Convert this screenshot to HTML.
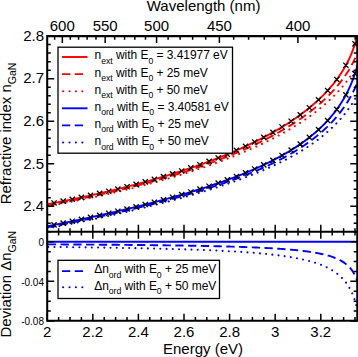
<!DOCTYPE html><html><head><meta charset="utf-8"><style>
html,body{margin:0;padding:0;background:#fff}body{width:358px;height:357px;overflow:hidden}
svg{display:block}text{font-family:"Liberation Sans",sans-serif;fill:#000}
</style></head><body>
<svg width="358" height="357" viewBox="0 0 358 357">
<defs><clipPath id="c1"><rect x="47.2" y="36.1" width="310.08" height="195.70000000000002"/></clipPath>
<clipPath id="c2"><rect x="47.2" y="231.8" width="310.08" height="88.89999999999998"/></clipPath></defs>
<g clip-path="url(#c1)" fill="none" stroke-width="1.90">
<path d="M47.20,206.34 L47.98,206.20 L48.75,206.06 L49.53,205.92 L50.31,205.78 L51.09,205.64 L51.86,205.50 L52.64,205.36 L53.42,205.21 L54.19,205.07 L54.97,204.93 L55.75,204.78 L56.53,204.64 L57.30,204.49 L58.08,204.35 L58.86,204.20 L59.63,204.06 L60.41,203.91 L61.19,203.76 L61.97,203.61 L62.74,203.47 L63.52,203.32 L64.30,203.17 L65.07,203.02 L65.85,202.87 L66.63,202.72 L67.41,202.57 L68.18,202.42 L68.96,202.27 L69.74,202.12 L70.51,201.96 L71.29,201.81 L72.07,201.66 L72.85,201.50 L73.62,201.35 L74.40,201.20 L75.18,201.04 L75.95,200.89 L76.73,200.73 L77.51,200.57 L78.29,200.42 L79.06,200.26 L79.84,200.10 L80.62,199.94 L81.39,199.78 L82.17,199.63 L82.95,199.47 L83.73,199.31 L84.50,199.14 L85.28,198.98 L86.06,198.82 L86.83,198.66 L87.61,198.50 L88.39,198.33 L89.17,198.17 L89.94,198.01 L90.72,197.84 L91.50,197.68 L92.27,197.51 L93.05,197.35 L93.83,197.18 L94.61,197.01 L95.38,196.85 L96.16,196.68 L96.94,196.51 L97.71,196.34 L98.49,196.17 L99.27,196.00 L100.05,195.83 L100.82,195.66 L101.60,195.49 L102.38,195.32 L103.15,195.14 L103.93,194.97 L104.71,194.80 L105.49,194.62 L106.26,194.45 L107.04,194.27 L107.82,194.10 L108.59,193.92 L109.37,193.75 L110.15,193.57 L110.93,193.39 L111.70,193.21 L112.48,193.03 L113.26,192.85 L114.03,192.67 L114.81,192.49 L115.59,192.31 L116.37,192.13 L117.14,191.95 L117.92,191.77 L118.70,191.58 L119.47,191.40 L120.25,191.21 L121.03,191.03 L121.81,190.84 L122.58,190.66 L123.36,190.47 L124.14,190.28 L124.91,190.09 L125.69,189.91 L126.47,189.72 L127.25,189.53 L128.02,189.34 L128.80,189.15 L129.58,188.95 L130.35,188.76 L131.13,188.57 L131.91,188.38 L132.69,188.18 L133.46,187.99 L134.24,187.79 L135.02,187.60 L135.79,187.40 L136.57,187.20 L137.35,187.01 L138.13,186.81 L138.90,186.61 L139.68,186.41 L140.46,186.21 L141.23,186.01 L142.01,185.81 L142.79,185.60 L143.57,185.40 L144.34,185.20 L145.12,184.99 L145.90,184.79 L146.67,184.58 L147.45,184.38 L148.23,184.17 L149.01,183.96 L149.78,183.76 L150.56,183.55 L151.34,183.34 L152.11,183.13 L152.89,182.92 L153.67,182.70 L154.45,182.49 L155.22,182.28 L156.00,182.07 L156.78,181.85 L157.55,181.64 L158.33,181.42 L159.11,181.20 L159.89,180.99 L160.66,180.77 L161.44,180.55 L162.22,180.33 L162.99,180.11 L163.77,179.89 L164.55,179.67 L165.33,179.44 L166.10,179.22 L166.88,179.00 L167.66,178.77 L168.43,178.55 L169.21,178.32 L169.99,178.09 L170.77,177.87 L171.54,177.64 L172.32,177.41 L173.10,177.18 L173.87,176.95 L174.65,176.72 L175.43,176.48 L176.21,176.25 L176.98,176.02 L177.76,175.78 L178.54,175.54 L179.31,175.31 L180.09,175.07 L180.87,174.83 L181.65,174.59 L182.42,174.35 L183.20,174.11 L183.98,173.87 L184.75,173.63 L185.53,173.38 L186.31,173.14 L187.09,172.89 L187.86,172.65 L188.64,172.40 L189.42,172.15 L190.19,171.90 L190.97,171.65 L191.75,171.40 L192.53,171.15 L193.30,170.90 L194.08,170.65 L194.86,170.39 L195.63,170.14 L196.41,169.88 L197.19,169.62 L197.97,169.36 L198.74,169.10 L199.52,168.84 L200.30,168.58 L201.07,168.32 L201.85,168.06 L202.63,167.79 L203.41,167.53 L204.18,167.26 L204.96,166.99 L205.74,166.73 L206.51,166.46 L207.29,166.19 L208.07,165.92 L208.85,165.64 L209.62,165.37 L210.40,165.09 L211.18,164.82 L211.95,164.54 L212.73,164.26 L213.51,163.99 L214.29,163.70 L215.06,163.42 L215.84,163.14 L216.62,162.86 L217.39,162.57 L218.17,162.29 L218.95,162.00 L219.73,161.71 L220.50,161.42 L221.28,161.13 L222.06,160.84 L222.83,160.55 L223.61,160.25 L224.39,159.96 L225.17,159.66 L225.94,159.36 L226.72,159.06 L227.50,158.76 L228.27,158.46 L229.05,158.16 L229.83,157.85 L230.61,157.55 L231.38,157.24 L232.16,156.93 L232.94,156.62 L233.71,156.31 L234.49,156.00 L235.27,155.68 L236.05,155.37 L236.82,155.05 L237.60,154.73 L238.38,154.41 L239.15,154.09 L239.93,153.77 L240.71,153.45 L241.49,153.12 L242.26,152.79 L243.04,152.47 L243.82,152.14 L244.59,151.80 L245.37,151.47 L246.15,151.14 L246.93,150.80 L247.70,150.46 L248.48,150.12 L249.26,149.78 L250.03,149.44 L250.81,149.09 L251.59,148.75 L252.37,148.40 L253.14,148.05 L253.92,147.70 L254.70,147.35 L255.47,146.99 L256.25,146.63 L257.03,146.28 L257.81,145.92 L258.58,145.55 L259.36,145.19 L260.14,144.82 L260.91,144.46 L261.69,144.09 L262.47,143.71 L263.25,143.34 L264.02,142.97 L264.80,142.59 L265.58,142.21 L266.35,141.83 L267.13,141.44 L267.91,141.06 L268.69,140.67 L269.46,140.28 L270.24,139.89 L271.02,139.49 L271.79,139.09 L272.57,138.69 L273.35,138.29 L274.13,137.89 L274.90,137.48 L275.68,137.07 L276.46,136.66 L277.23,136.25 L278.01,135.83 L278.79,135.42 L279.57,135.00 L280.34,134.57 L281.12,134.15 L281.90,133.72 L282.67,133.29 L283.45,132.85 L284.23,132.41 L285.01,131.97 L285.78,131.53 L286.56,131.09 L287.34,130.64 L288.11,130.19 L288.89,129.73 L289.67,129.28 L290.45,128.81 L291.22,128.35 L292.00,127.88 L292.78,127.41 L293.55,126.94 L294.33,126.46 L295.11,125.98 L295.89,125.50 L296.66,125.01 L297.44,124.52 L298.22,124.03 L298.99,123.53 L299.77,123.03 L300.55,122.53 L301.33,122.02 L302.10,121.50 L302.88,120.99 L303.66,120.46 L304.43,119.94 L305.21,119.41 L305.99,118.88 L306.77,118.34 L307.54,117.80 L308.32,117.25 L309.10,116.70 L309.87,116.14 L310.65,115.58 L311.43,115.01 L312.21,114.44 L312.98,113.86 L313.76,113.28 L314.54,112.70 L315.31,112.10 L316.09,111.51 L316.87,110.90 L317.65,110.29 L318.42,109.68 L319.20,109.05 L319.98,108.43 L320.75,107.79 L321.53,107.15 L322.31,106.50 L323.09,105.85 L323.86,105.19 L324.64,104.52 L325.42,103.84 L326.19,103.16 L326.97,102.47 L327.75,101.77 L328.53,101.06 L329.30,100.35 L330.08,99.62 L330.86,98.89 L331.63,98.14 L332.41,97.39 L333.19,96.63 L333.97,95.86 L334.74,95.07 L335.52,94.28 L336.30,93.48 L337.07,92.66 L337.85,91.83 L338.63,90.99 L339.41,90.14 L340.18,89.27 L340.96,88.39 L341.74,87.49 L342.51,86.58 L343.29,85.66 L344.07,84.72 L344.85,83.76 L345.62,82.78 L346.40,81.79 L347.18,80.77 L347.95,79.74 L348.73,78.68 L349.51,77.60 L350.29,76.50 L351.06,75.37 L351.84,74.22 L352.62,73.04 L353.39,71.83 L354.17,70.59 L354.95,69.31 L355.73,67.99 L356.50,66.64 L357.28,65.25" stroke="#ff0000" stroke-dasharray="0.01,6.22" stroke-linecap="round" stroke-width="2.1"/>
<path d="M47.20,205.31 L47.98,205.16 L48.75,205.02 L49.53,204.88 L50.31,204.73 L51.09,204.59 L51.86,204.44 L52.64,204.30 L53.42,204.15 L54.19,204.01 L54.97,203.86 L55.75,203.71 L56.53,203.56 L57.30,203.42 L58.08,203.27 L58.86,203.12 L59.63,202.97 L60.41,202.82 L61.19,202.67 L61.97,202.52 L62.74,202.37 L63.52,202.22 L64.30,202.06 L65.07,201.91 L65.85,201.76 L66.63,201.61 L67.41,201.45 L68.18,201.30 L68.96,201.14 L69.74,200.99 L70.51,200.83 L71.29,200.68 L72.07,200.52 L72.85,200.36 L73.62,200.21 L74.40,200.05 L75.18,199.89 L75.95,199.73 L76.73,199.57 L77.51,199.41 L78.29,199.25 L79.06,199.09 L79.84,198.93 L80.62,198.77 L81.39,198.61 L82.17,198.44 L82.95,198.28 L83.73,198.12 L84.50,197.95 L85.28,197.79 L86.06,197.62 L86.83,197.46 L87.61,197.29 L88.39,197.12 L89.17,196.96 L89.94,196.79 L90.72,196.62 L91.50,196.45 L92.27,196.28 L93.05,196.11 L93.83,195.94 L94.61,195.77 L95.38,195.60 L96.16,195.43 L96.94,195.26 L97.71,195.09 L98.49,194.91 L99.27,194.74 L100.05,194.57 L100.82,194.39 L101.60,194.22 L102.38,194.04 L103.15,193.86 L103.93,193.69 L104.71,193.51 L105.49,193.33 L106.26,193.15 L107.04,192.97 L107.82,192.79 L108.59,192.61 L109.37,192.43 L110.15,192.25 L110.93,192.07 L111.70,191.89 L112.48,191.70 L113.26,191.52 L114.03,191.34 L114.81,191.15 L115.59,190.97 L116.37,190.78 L117.14,190.59 L117.92,190.41 L118.70,190.22 L119.47,190.03 L120.25,189.84 L121.03,189.65 L121.81,189.46 L122.58,189.27 L123.36,189.08 L124.14,188.89 L124.91,188.70 L125.69,188.50 L126.47,188.31 L127.25,188.12 L128.02,187.92 L128.80,187.73 L129.58,187.53 L130.35,187.33 L131.13,187.14 L131.91,186.94 L132.69,186.74 L133.46,186.54 L134.24,186.34 L135.02,186.14 L135.79,185.94 L136.57,185.74 L137.35,185.54 L138.13,185.33 L138.90,185.13 L139.68,184.93 L140.46,184.72 L141.23,184.51 L142.01,184.31 L142.79,184.10 L143.57,183.89 L144.34,183.69 L145.12,183.48 L145.90,183.27 L146.67,183.06 L147.45,182.85 L148.23,182.63 L149.01,182.42 L149.78,182.21 L150.56,181.99 L151.34,181.78 L152.11,181.56 L152.89,181.35 L153.67,181.13 L154.45,180.91 L155.22,180.70 L156.00,180.48 L156.78,180.26 L157.55,180.04 L158.33,179.81 L159.11,179.59 L159.89,179.37 L160.66,179.15 L161.44,178.92 L162.22,178.70 L162.99,178.47 L163.77,178.25 L164.55,178.02 L165.33,177.79 L166.10,177.56 L166.88,177.33 L167.66,177.10 L168.43,176.87 L169.21,176.64 L169.99,176.41 L170.77,176.17 L171.54,175.94 L172.32,175.70 L173.10,175.47 L173.87,175.23 L174.65,174.99 L175.43,174.75 L176.21,174.51 L176.98,174.27 L177.76,174.03 L178.54,173.79 L179.31,173.55 L180.09,173.30 L180.87,173.06 L181.65,172.81 L182.42,172.57 L183.20,172.32 L183.98,172.07 L184.75,171.82 L185.53,171.57 L186.31,171.32 L187.09,171.07 L187.86,170.81 L188.64,170.56 L189.42,170.31 L190.19,170.05 L190.97,169.79 L191.75,169.54 L192.53,169.28 L193.30,169.02 L194.08,168.76 L194.86,168.50 L195.63,168.23 L196.41,167.97 L197.19,167.70 L197.97,167.44 L198.74,167.17 L199.52,166.91 L200.30,166.64 L201.07,166.37 L201.85,166.10 L202.63,165.82 L203.41,165.55 L204.18,165.28 L204.96,165.00 L205.74,164.73 L206.51,164.45 L207.29,164.17 L208.07,163.89 L208.85,163.61 L209.62,163.33 L210.40,163.05 L211.18,162.76 L211.95,162.48 L212.73,162.19 L213.51,161.90 L214.29,161.62 L215.06,161.33 L215.84,161.03 L216.62,160.74 L217.39,160.45 L218.17,160.15 L218.95,159.86 L219.73,159.56 L220.50,159.26 L221.28,158.96 L222.06,158.66 L222.83,158.36 L223.61,158.06 L224.39,157.75 L225.17,157.44 L225.94,157.14 L226.72,156.83 L227.50,156.52 L228.27,156.21 L229.05,155.89 L229.83,155.58 L230.61,155.26 L231.38,154.95 L232.16,154.63 L232.94,154.31 L233.71,153.99 L234.49,153.66 L235.27,153.34 L236.05,153.01 L236.82,152.68 L237.60,152.36 L238.38,152.03 L239.15,151.69 L239.93,151.36 L240.71,151.02 L241.49,150.69 L242.26,150.35 L243.04,150.01 L243.82,149.67 L244.59,149.32 L245.37,148.98 L246.15,148.63 L246.93,148.28 L247.70,147.93 L248.48,147.58 L249.26,147.23 L250.03,146.87 L250.81,146.52 L251.59,146.16 L252.37,145.80 L253.14,145.43 L253.92,145.07 L254.70,144.70 L255.47,144.33 L256.25,143.96 L257.03,143.59 L257.81,143.22 L258.58,142.84 L259.36,142.46 L260.14,142.08 L260.91,141.70 L261.69,141.31 L262.47,140.93 L263.25,140.54 L264.02,140.15 L264.80,139.75 L265.58,139.36 L266.35,138.96 L267.13,138.56 L267.91,138.16 L268.69,137.75 L269.46,137.35 L270.24,136.94 L271.02,136.53 L271.79,136.11 L272.57,135.69 L273.35,135.28 L274.13,134.85 L274.90,134.43 L275.68,134.00 L276.46,133.57 L277.23,133.14 L278.01,132.71 L278.79,132.27 L279.57,131.83 L280.34,131.38 L281.12,130.94 L281.90,130.49 L282.67,130.04 L283.45,129.58 L284.23,129.12 L285.01,128.66 L285.78,128.20 L286.56,127.73 L287.34,127.26 L288.11,126.78 L288.89,126.30 L289.67,125.82 L290.45,125.34 L291.22,124.85 L292.00,124.36 L292.78,123.86 L293.55,123.36 L294.33,122.86 L295.11,122.36 L295.89,121.85 L296.66,121.33 L297.44,120.81 L298.22,120.29 L298.99,119.76 L299.77,119.23 L300.55,118.70 L301.33,118.16 L302.10,117.61 L302.88,117.06 L303.66,116.51 L304.43,115.95 L305.21,115.39 L305.99,114.82 L306.77,114.25 L307.54,113.67 L308.32,113.09 L309.10,112.50 L309.87,111.90 L310.65,111.30 L311.43,110.70 L312.21,110.09 L312.98,109.47 L313.76,108.85 L314.54,108.22 L315.31,107.58 L316.09,106.94 L316.87,106.29 L317.65,105.63 L318.42,104.97 L319.20,104.29 L319.98,103.62 L320.75,102.93 L321.53,102.24 L322.31,101.53 L323.09,100.82 L323.86,100.10 L324.64,99.38 L325.42,98.64 L326.19,97.89 L326.97,97.14 L327.75,96.37 L328.53,95.60 L329.30,94.81 L330.08,94.01 L330.86,93.20 L331.63,92.38 L332.41,91.55 L333.19,90.71 L333.97,89.85 L334.74,88.98 L335.52,88.09 L336.30,87.19 L337.07,86.28 L337.85,85.35 L338.63,84.40 L339.41,83.43 L340.18,82.45 L340.96,81.45 L341.74,80.43 L342.51,79.39 L343.29,78.32 L344.07,77.24 L344.85,76.13 L345.62,74.99 L346.40,73.83 L347.18,72.64 L347.95,71.42 L348.73,70.16 L349.51,68.87 L350.29,67.55 L351.06,66.18 L351.84,64.77 L352.62,63.32 L353.39,61.81 L354.17,60.25 L354.95,58.63 L355.73,56.94 L356.50,55.17 L357.28,53.33" stroke="#ff0000" stroke-dasharray="8.3,4.45"/>
<path d="M47.20,204.25 L47.98,204.10 L48.75,203.96 L49.53,203.81 L50.31,203.66 L51.09,203.52 L51.86,203.37 L52.64,203.22 L53.42,203.07 L54.19,202.92 L54.97,202.77 L55.75,202.62 L56.53,202.47 L57.30,202.32 L58.08,202.17 L58.86,202.01 L59.63,201.86 L60.41,201.71 L61.19,201.55 L61.97,201.40 L62.74,201.25 L63.52,201.09 L64.30,200.94 L65.07,200.78 L65.85,200.62 L66.63,200.47 L67.41,200.31 L68.18,200.15 L68.96,200.00 L69.74,199.84 L70.51,199.68 L71.29,199.52 L72.07,199.36 L72.85,199.20 L73.62,199.04 L74.40,198.88 L75.18,198.71 L75.95,198.55 L76.73,198.39 L77.51,198.23 L78.29,198.06 L79.06,197.90 L79.84,197.73 L80.62,197.57 L81.39,197.40 L82.17,197.24 L82.95,197.07 L83.73,196.90 L84.50,196.73 L85.28,196.57 L86.06,196.40 L86.83,196.23 L87.61,196.06 L88.39,195.89 L89.17,195.72 L89.94,195.55 L90.72,195.37 L91.50,195.20 L92.27,195.03 L93.05,194.86 L93.83,194.68 L94.61,194.51 L95.38,194.33 L96.16,194.16 L96.94,193.98 L97.71,193.80 L98.49,193.63 L99.27,193.45 L100.05,193.27 L100.82,193.09 L101.60,192.91 L102.38,192.73 L103.15,192.55 L103.93,192.37 L104.71,192.19 L105.49,192.01 L106.26,191.83 L107.04,191.64 L107.82,191.46 L108.59,191.27 L109.37,191.09 L110.15,190.90 L110.93,190.72 L111.70,190.53 L112.48,190.34 L113.26,190.16 L114.03,189.97 L114.81,189.78 L115.59,189.59 L116.37,189.40 L117.14,189.21 L117.92,189.02 L118.70,188.83 L119.47,188.63 L120.25,188.44 L121.03,188.25 L121.81,188.05 L122.58,187.86 L123.36,187.66 L124.14,187.47 L124.91,187.27 L125.69,187.07 L126.47,186.87 L127.25,186.67 L128.02,186.47 L128.80,186.27 L129.58,186.07 L130.35,185.87 L131.13,185.67 L131.91,185.47 L132.69,185.27 L133.46,185.06 L134.24,184.86 L135.02,184.65 L135.79,184.45 L136.57,184.24 L137.35,184.03 L138.13,183.82 L138.90,183.62 L139.68,183.41 L140.46,183.20 L141.23,182.99 L142.01,182.77 L142.79,182.56 L143.57,182.35 L144.34,182.14 L145.12,181.92 L145.90,181.71 L146.67,181.49 L147.45,181.28 L148.23,181.06 L149.01,180.84 L149.78,180.62 L150.56,180.40 L151.34,180.18 L152.11,179.96 L152.89,179.74 L153.67,179.52 L154.45,179.30 L155.22,179.07 L156.00,178.85 L156.78,178.62 L157.55,178.40 L158.33,178.17 L159.11,177.94 L159.89,177.71 L160.66,177.48 L161.44,177.25 L162.22,177.02 L162.99,176.79 L163.77,176.56 L164.55,176.33 L165.33,176.09 L166.10,175.86 L166.88,175.62 L167.66,175.39 L168.43,175.15 L169.21,174.91 L169.99,174.67 L170.77,174.43 L171.54,174.19 L172.32,173.95 L173.10,173.71 L173.87,173.46 L174.65,173.22 L175.43,172.98 L176.21,172.73 L176.98,172.48 L177.76,172.23 L178.54,171.99 L179.31,171.74 L180.09,171.49 L180.87,171.24 L181.65,170.98 L182.42,170.73 L183.20,170.48 L183.98,170.22 L184.75,169.96 L185.53,169.71 L186.31,169.45 L187.09,169.19 L187.86,168.93 L188.64,168.67 L189.42,168.41 L190.19,168.14 L190.97,167.88 L191.75,167.62 L192.53,167.35 L193.30,167.08 L194.08,166.82 L194.86,166.55 L195.63,166.28 L196.41,166.01 L197.19,165.73 L197.97,165.46 L198.74,165.19 L199.52,164.91 L200.30,164.63 L201.07,164.36 L201.85,164.08 L202.63,163.80 L203.41,163.52 L204.18,163.23 L204.96,162.95 L205.74,162.67 L206.51,162.38 L207.29,162.10 L208.07,161.81 L208.85,161.52 L209.62,161.23 L210.40,160.94 L211.18,160.64 L211.95,160.35 L212.73,160.05 L213.51,159.76 L214.29,159.46 L215.06,159.16 L215.84,158.86 L216.62,158.56 L217.39,158.26 L218.17,157.95 L218.95,157.65 L219.73,157.34 L220.50,157.03 L221.28,156.72 L222.06,156.41 L222.83,156.10 L223.61,155.79 L224.39,155.47 L225.17,155.16 L225.94,154.84 L226.72,154.52 L227.50,154.20 L228.27,153.88 L229.05,153.55 L229.83,153.23 L230.61,152.90 L231.38,152.57 L232.16,152.25 L232.94,151.91 L233.71,151.58 L234.49,151.25 L235.27,150.91 L236.05,150.57 L236.82,150.24 L237.60,149.89 L238.38,149.55 L239.15,149.21 L239.93,148.86 L240.71,148.52 L241.49,148.17 L242.26,147.82 L243.04,147.46 L243.82,147.11 L244.59,146.75 L245.37,146.40 L246.15,146.04 L246.93,145.67 L247.70,145.31 L248.48,144.95 L249.26,144.58 L250.03,144.21 L250.81,143.84 L251.59,143.46 L252.37,143.09 L253.14,142.71 L253.92,142.33 L254.70,141.95 L255.47,141.57 L256.25,141.18 L257.03,140.80 L257.81,140.41 L258.58,140.02 L259.36,139.62 L260.14,139.23 L260.91,138.83 L261.69,138.43 L262.47,138.02 L263.25,137.62 L264.02,137.21 L264.80,136.80 L265.58,136.39 L266.35,135.97 L267.13,135.55 L267.91,135.13 L268.69,134.71 L269.46,134.29 L270.24,133.86 L271.02,133.43 L271.79,132.99 L272.57,132.56 L273.35,132.12 L274.13,131.68 L274.90,131.23 L275.68,130.79 L276.46,130.34 L277.23,129.88 L278.01,129.43 L278.79,128.97 L279.57,128.51 L280.34,128.04 L281.12,127.57 L281.90,127.10 L282.67,126.62 L283.45,126.14 L284.23,125.66 L285.01,125.18 L285.78,124.69 L286.56,124.19 L287.34,123.70 L288.11,123.20 L288.89,122.69 L289.67,122.19 L290.45,121.67 L291.22,121.16 L292.00,120.64 L292.78,120.11 L293.55,119.59 L294.33,119.05 L295.11,118.52 L295.89,117.98 L296.66,117.43 L297.44,116.88 L298.22,116.32 L298.99,115.76 L299.77,115.20 L300.55,114.63 L301.33,114.06 L302.10,113.48 L302.88,112.89 L303.66,112.30 L304.43,111.70 L305.21,111.10 L305.99,110.49 L306.77,109.88 L307.54,109.26 L308.32,108.64 L309.10,108.00 L309.87,107.36 L310.65,106.72 L311.43,106.07 L312.21,105.41 L312.98,104.74 L313.76,104.07 L314.54,103.39 L315.31,102.70 L316.09,102.00 L316.87,101.30 L317.65,100.58 L318.42,99.86 L319.20,99.13 L319.98,98.39 L320.75,97.64 L321.53,96.88 L322.31,96.11 L323.09,95.33 L323.86,94.54 L324.64,93.74 L325.42,92.93 L326.19,92.11 L326.97,91.27 L327.75,90.42 L328.53,89.56 L329.30,88.68 L330.08,87.79 L330.86,86.89 L331.63,85.97 L332.41,85.03 L333.19,84.08 L333.97,83.11 L334.74,82.12 L335.52,81.11 L336.30,80.08 L337.07,79.03 L337.85,77.96 L338.63,76.87 L339.41,75.75 L340.18,74.61 L340.96,73.43 L341.74,72.23 L342.51,71.00 L343.29,69.73 L344.07,68.43 L344.85,67.09 L345.62,65.71 L346.40,64.29 L347.18,62.82 L347.95,61.30 L348.73,59.71 L349.51,58.07 L350.29,56.36 L351.06,54.57 L351.84,52.69 L352.62,50.71 L353.39,48.62 L354.17,46.39 L354.95,44.01 L355.73,41.44 L356.50,38.64 L357.28,35.53" stroke="#ff0000"/>
<path d="M47.20,228.47 L47.98,228.32 L48.75,228.17 L49.53,228.02 L50.31,227.88 L51.09,227.73 L51.86,227.58 L52.64,227.43 L53.42,227.28 L54.19,227.13 L54.97,226.98 L55.75,226.82 L56.53,226.67 L57.30,226.52 L58.08,226.37 L58.86,226.22 L59.63,226.07 L60.41,225.91 L61.19,225.76 L61.97,225.61 L62.74,225.46 L63.52,225.30 L64.30,225.15 L65.07,224.99 L65.85,224.84 L66.63,224.68 L67.41,224.53 L68.18,224.37 L68.96,224.22 L69.74,224.06 L70.51,223.91 L71.29,223.75 L72.07,223.59 L72.85,223.44 L73.62,223.28 L74.40,223.12 L75.18,222.96 L75.95,222.81 L76.73,222.65 L77.51,222.49 L78.29,222.33 L79.06,222.17 L79.84,222.01 L80.62,221.85 L81.39,221.69 L82.17,221.53 L82.95,221.37 L83.73,221.21 L84.50,221.05 L85.28,220.89 L86.06,220.72 L86.83,220.56 L87.61,220.40 L88.39,220.24 L89.17,220.07 L89.94,219.91 L90.72,219.75 L91.50,219.58 L92.27,219.42 L93.05,219.25 L93.83,219.09 L94.61,218.92 L95.38,218.76 L96.16,218.59 L96.94,218.43 L97.71,218.26 L98.49,218.09 L99.27,217.92 L100.05,217.76 L100.82,217.59 L101.60,217.42 L102.38,217.25 L103.15,217.08 L103.93,216.91 L104.71,216.74 L105.49,216.57 L106.26,216.40 L107.04,216.23 L107.82,216.06 L108.59,215.89 L109.37,215.72 L110.15,215.55 L110.93,215.37 L111.70,215.20 L112.48,215.03 L113.26,214.86 L114.03,214.68 L114.81,214.51 L115.59,214.33 L116.37,214.16 L117.14,213.98 L117.92,213.81 L118.70,213.63 L119.47,213.45 L120.25,213.28 L121.03,213.10 L121.81,212.92 L122.58,212.75 L123.36,212.57 L124.14,212.39 L124.91,212.21 L125.69,212.03 L126.47,211.85 L127.25,211.67 L128.02,211.49 L128.80,211.31 L129.58,211.13 L130.35,210.95 L131.13,210.76 L131.91,210.58 L132.69,210.40 L133.46,210.21 L134.24,210.03 L135.02,209.85 L135.79,209.66 L136.57,209.48 L137.35,209.29 L138.13,209.11 L138.90,208.92 L139.68,208.73 L140.46,208.54 L141.23,208.36 L142.01,208.17 L142.79,207.98 L143.57,207.79 L144.34,207.60 L145.12,207.41 L145.90,207.22 L146.67,207.03 L147.45,206.84 L148.23,206.65 L149.01,206.46 L149.78,206.26 L150.56,206.07 L151.34,205.88 L152.11,205.68 L152.89,205.49 L153.67,205.29 L154.45,205.10 L155.22,204.90 L156.00,204.71 L156.78,204.51 L157.55,204.31 L158.33,204.11 L159.11,203.91 L159.89,203.71 L160.66,203.52 L161.44,203.32 L162.22,203.11 L162.99,202.91 L163.77,202.71 L164.55,202.51 L165.33,202.31 L166.10,202.10 L166.88,201.90 L167.66,201.70 L168.43,201.49 L169.21,201.29 L169.99,201.08 L170.77,200.87 L171.54,200.67 L172.32,200.46 L173.10,200.25 L173.87,200.04 L174.65,199.83 L175.43,199.62 L176.21,199.41 L176.98,199.20 L177.76,198.99 L178.54,198.77 L179.31,198.56 L180.09,198.35 L180.87,198.13 L181.65,197.92 L182.42,197.70 L183.20,197.49 L183.98,197.27 L184.75,197.05 L185.53,196.83 L186.31,196.61 L187.09,196.39 L187.86,196.17 L188.64,195.95 L189.42,195.73 L190.19,195.51 L190.97,195.28 L191.75,195.06 L192.53,194.84 L193.30,194.61 L194.08,194.38 L194.86,194.16 L195.63,193.93 L196.41,193.70 L197.19,193.47 L197.97,193.24 L198.74,193.01 L199.52,192.78 L200.30,192.55 L201.07,192.32 L201.85,192.08 L202.63,191.85 L203.41,191.61 L204.18,191.38 L204.96,191.14 L205.74,190.90 L206.51,190.66 L207.29,190.42 L208.07,190.18 L208.85,189.94 L209.62,189.70 L210.40,189.46 L211.18,189.21 L211.95,188.97 L212.73,188.72 L213.51,188.48 L214.29,188.23 L215.06,187.98 L215.84,187.73 L216.62,187.48 L217.39,187.23 L218.17,186.98 L218.95,186.72 L219.73,186.47 L220.50,186.21 L221.28,185.96 L222.06,185.70 L222.83,185.44 L223.61,185.18 L224.39,184.92 L225.17,184.66 L225.94,184.40 L226.72,184.13 L227.50,183.87 L228.27,183.60 L229.05,183.33 L229.83,183.07 L230.61,182.80 L231.38,182.53 L232.16,182.25 L232.94,181.98 L233.71,181.71 L234.49,181.43 L235.27,181.15 L236.05,180.88 L236.82,180.60 L237.60,180.32 L238.38,180.03 L239.15,179.75 L239.93,179.47 L240.71,179.18 L241.49,178.89 L242.26,178.61 L243.04,178.32 L243.82,178.02 L244.59,177.73 L245.37,177.44 L246.15,177.14 L246.93,176.84 L247.70,176.55 L248.48,176.25 L249.26,175.94 L250.03,175.64 L250.81,175.34 L251.59,175.03 L252.37,174.72 L253.14,174.41 L253.92,174.10 L254.70,173.79 L255.47,173.47 L256.25,173.16 L257.03,172.84 L257.81,172.52 L258.58,172.20 L259.36,171.88 L260.14,171.55 L260.91,171.22 L261.69,170.89 L262.47,170.56 L263.25,170.23 L264.02,169.90 L264.80,169.56 L265.58,169.22 L266.35,168.88 L267.13,168.54 L267.91,168.19 L268.69,167.85 L269.46,167.50 L270.24,167.15 L271.02,166.79 L271.79,166.44 L272.57,166.08 L273.35,165.72 L274.13,165.36 L274.90,164.99 L275.68,164.63 L276.46,164.26 L277.23,163.88 L278.01,163.51 L278.79,163.13 L279.57,162.75 L280.34,162.37 L281.12,161.98 L281.90,161.60 L282.67,161.21 L283.45,160.81 L284.23,160.42 L285.01,160.02 L285.78,159.62 L286.56,159.21 L287.34,158.80 L288.11,158.39 L288.89,157.98 L289.67,157.56 L290.45,157.14 L291.22,156.71 L292.00,156.29 L292.78,155.86 L293.55,155.42 L294.33,154.98 L295.11,154.54 L295.89,154.10 L296.66,153.65 L297.44,153.20 L298.22,152.74 L298.99,152.28 L299.77,151.82 L300.55,151.35 L301.33,150.88 L302.10,150.40 L302.88,149.92 L303.66,149.43 L304.43,148.94 L305.21,148.45 L305.99,147.95 L306.77,147.45 L307.54,146.94 L308.32,146.42 L309.10,145.91 L309.87,145.38 L310.65,144.85 L311.43,144.32 L312.21,143.78 L312.98,143.23 L313.76,142.68 L314.54,142.13 L315.31,141.56 L316.09,140.99 L316.87,140.42 L317.65,139.84 L318.42,139.25 L319.20,138.65 L319.98,138.05 L320.75,137.44 L321.53,136.83 L322.31,136.20 L323.09,135.57 L323.86,134.93 L324.64,134.29 L325.42,133.63 L326.19,132.97 L326.97,132.29 L327.75,131.61 L328.53,130.92 L329.30,130.22 L330.08,129.51 L330.86,128.80 L331.63,128.07 L332.41,127.33 L333.19,126.58 L333.97,125.81 L334.74,125.04 L335.52,124.25 L336.30,123.46 L337.07,122.65 L337.85,121.82 L338.63,120.98 L339.41,120.13 L340.18,119.27 L340.96,118.39 L341.74,117.49 L342.51,116.58 L343.29,115.64 L344.07,114.70 L344.85,113.73 L345.62,112.74 L346.40,111.74 L347.18,110.71 L347.95,109.66 L348.73,108.59 L349.51,107.50 L350.29,106.38 L351.06,105.23 L351.84,104.06 L352.62,102.85 L353.39,101.62 L354.17,100.35 L354.95,99.05 L355.73,97.71 L356.50,96.33 L357.28,94.91" stroke="#0000ff" stroke-dasharray="0.01,6.22" stroke-linecap="round" stroke-width="2.1"/>
<path d="M47.20,227.38 L47.98,227.23 L48.75,227.08 L49.53,226.93 L50.31,226.77 L51.09,226.62 L51.86,226.47 L52.64,226.32 L53.42,226.17 L54.19,226.02 L54.97,225.86 L55.75,225.71 L56.53,225.56 L57.30,225.40 L58.08,225.25 L58.86,225.10 L59.63,224.94 L60.41,224.79 L61.19,224.63 L61.97,224.48 L62.74,224.32 L63.52,224.17 L64.30,224.01 L65.07,223.86 L65.85,223.70 L66.63,223.54 L67.41,223.38 L68.18,223.23 L68.96,223.07 L69.74,222.91 L70.51,222.75 L71.29,222.60 L72.07,222.44 L72.85,222.28 L73.62,222.12 L74.40,221.96 L75.18,221.80 L75.95,221.64 L76.73,221.48 L77.51,221.32 L78.29,221.16 L79.06,220.99 L79.84,220.83 L80.62,220.67 L81.39,220.51 L82.17,220.35 L82.95,220.18 L83.73,220.02 L84.50,219.86 L85.28,219.69 L86.06,219.53 L86.83,219.36 L87.61,219.20 L88.39,219.03 L89.17,218.87 L89.94,218.70 L90.72,218.54 L91.50,218.37 L92.27,218.20 L93.05,218.04 L93.83,217.87 L94.61,217.70 L95.38,217.53 L96.16,217.36 L96.94,217.20 L97.71,217.03 L98.49,216.86 L99.27,216.69 L100.05,216.52 L100.82,216.35 L101.60,216.18 L102.38,216.00 L103.15,215.83 L103.93,215.66 L104.71,215.49 L105.49,215.32 L106.26,215.14 L107.04,214.97 L107.82,214.80 L108.59,214.62 L109.37,214.45 L110.15,214.27 L110.93,214.10 L111.70,213.92 L112.48,213.75 L113.26,213.57 L114.03,213.40 L114.81,213.22 L115.59,213.04 L116.37,212.86 L117.14,212.69 L117.92,212.51 L118.70,212.33 L119.47,212.15 L120.25,211.97 L121.03,211.79 L121.81,211.61 L122.58,211.43 L123.36,211.25 L124.14,211.07 L124.91,210.88 L125.69,210.70 L126.47,210.52 L127.25,210.34 L128.02,210.15 L128.80,209.97 L129.58,209.78 L130.35,209.60 L131.13,209.41 L131.91,209.23 L132.69,209.04 L133.46,208.86 L134.24,208.67 L135.02,208.48 L135.79,208.29 L136.57,208.11 L137.35,207.92 L138.13,207.73 L138.90,207.54 L139.68,207.35 L140.46,207.16 L141.23,206.97 L142.01,206.78 L142.79,206.58 L143.57,206.39 L144.34,206.20 L145.12,206.01 L145.90,205.81 L146.67,205.62 L147.45,205.42 L148.23,205.23 L149.01,205.03 L149.78,204.84 L150.56,204.64 L151.34,204.44 L152.11,204.24 L152.89,204.05 L153.67,203.85 L154.45,203.65 L155.22,203.45 L156.00,203.25 L156.78,203.05 L157.55,202.85 L158.33,202.64 L159.11,202.44 L159.89,202.24 L160.66,202.04 L161.44,201.83 L162.22,201.63 L162.99,201.42 L163.77,201.22 L164.55,201.01 L165.33,200.80 L166.10,200.60 L166.88,200.39 L167.66,200.18 L168.43,199.97 L169.21,199.76 L169.99,199.55 L170.77,199.34 L171.54,199.13 L172.32,198.92 L173.10,198.70 L173.87,198.49 L174.65,198.28 L175.43,198.06 L176.21,197.85 L176.98,197.63 L177.76,197.41 L178.54,197.20 L179.31,196.98 L180.09,196.76 L180.87,196.54 L181.65,196.32 L182.42,196.10 L183.20,195.88 L183.98,195.66 L184.75,195.43 L185.53,195.21 L186.31,194.99 L187.09,194.76 L187.86,194.54 L188.64,194.31 L189.42,194.08 L190.19,193.85 L190.97,193.63 L191.75,193.40 L192.53,193.17 L193.30,192.94 L194.08,192.70 L194.86,192.47 L195.63,192.24 L196.41,192.00 L197.19,191.77 L197.97,191.53 L198.74,191.30 L199.52,191.06 L200.30,190.82 L201.07,190.58 L201.85,190.34 L202.63,190.10 L203.41,189.86 L204.18,189.62 L204.96,189.38 L205.74,189.13 L206.51,188.89 L207.29,188.64 L208.07,188.39 L208.85,188.14 L209.62,187.90 L210.40,187.65 L211.18,187.40 L211.95,187.14 L212.73,186.89 L213.51,186.64 L214.29,186.38 L215.06,186.13 L215.84,185.87 L216.62,185.61 L217.39,185.35 L218.17,185.09 L218.95,184.83 L219.73,184.57 L220.50,184.31 L221.28,184.04 L222.06,183.78 L222.83,183.51 L223.61,183.24 L224.39,182.98 L225.17,182.71 L225.94,182.43 L226.72,182.16 L227.50,181.89 L228.27,181.61 L229.05,181.34 L229.83,181.06 L230.61,180.78 L231.38,180.50 L232.16,180.22 L232.94,179.94 L233.71,179.66 L234.49,179.37 L235.27,179.08 L236.05,178.80 L236.82,178.51 L237.60,178.22 L238.38,177.93 L239.15,177.63 L239.93,177.34 L240.71,177.04 L241.49,176.74 L242.26,176.45 L243.04,176.14 L243.82,175.84 L244.59,175.54 L245.37,175.23 L246.15,174.93 L246.93,174.62 L247.70,174.31 L248.48,174.00 L249.26,173.68 L250.03,173.37 L250.81,173.05 L251.59,172.73 L252.37,172.41 L253.14,172.09 L253.92,171.77 L254.70,171.44 L255.47,171.11 L256.25,170.78 L257.03,170.45 L257.81,170.12 L258.58,169.78 L259.36,169.45 L260.14,169.11 L260.91,168.77 L261.69,168.42 L262.47,168.08 L263.25,167.73 L264.02,167.38 L264.80,167.03 L265.58,166.67 L266.35,166.32 L267.13,165.96 L267.91,165.60 L268.69,165.24 L269.46,164.87 L270.24,164.50 L271.02,164.13 L271.79,163.76 L272.57,163.38 L273.35,163.00 L274.13,162.62 L274.90,162.24 L275.68,161.85 L276.46,161.47 L277.23,161.07 L278.01,160.68 L278.79,160.28 L279.57,159.88 L280.34,159.48 L281.12,159.07 L281.90,158.66 L282.67,158.25 L283.45,157.84 L284.23,157.42 L285.01,157.00 L285.78,156.57 L286.56,156.14 L287.34,155.71 L288.11,155.28 L288.89,154.84 L289.67,154.40 L290.45,153.95 L291.22,153.50 L292.00,153.05 L292.78,152.59 L293.55,152.13 L294.33,151.66 L295.11,151.19 L295.89,150.72 L296.66,150.24 L297.44,149.76 L298.22,149.27 L298.99,148.78 L299.77,148.28 L300.55,147.78 L301.33,147.28 L302.10,146.77 L302.88,146.25 L303.66,145.73 L304.43,145.21 L305.21,144.68 L305.99,144.14 L306.77,143.60 L307.54,143.05 L308.32,142.50 L309.10,141.94 L309.87,141.37 L310.65,140.80 L311.43,140.22 L312.21,139.64 L312.98,139.05 L313.76,138.45 L314.54,137.85 L315.31,137.24 L316.09,136.62 L316.87,135.99 L317.65,135.36 L318.42,134.72 L319.20,134.07 L319.98,133.41 L320.75,132.74 L321.53,132.07 L322.31,131.38 L323.09,130.69 L323.86,129.99 L324.64,129.28 L325.42,128.55 L326.19,127.82 L326.97,127.08 L327.75,126.32 L328.53,125.56 L329.30,124.78 L330.08,123.99 L330.86,123.19 L331.63,122.37 L332.41,121.54 L333.19,120.70 L333.97,119.85 L334.74,118.97 L335.52,118.09 L336.30,117.18 L337.07,116.27 L337.85,115.33 L338.63,114.38 L339.41,113.40 L340.18,112.41 L340.96,111.40 L341.74,110.36 L342.51,109.31 L343.29,108.23 L344.07,107.13 L344.85,106.00 L345.62,104.84 L346.40,103.66 L347.18,102.44 L347.95,101.20 L348.73,99.92 L349.51,98.60 L350.29,97.25 L351.06,95.86 L351.84,94.42 L352.62,92.94 L353.39,91.41 L354.17,89.82 L354.95,88.18 L355.73,86.48 L356.50,84.71 L357.28,82.86" stroke="#0000ff" stroke-dasharray="8.3,4.45"/>
<path d="M47.20,226.27 L47.98,226.12 L48.75,225.96 L49.53,225.81 L50.31,225.66 L51.09,225.51 L51.86,225.35 L52.64,225.20 L53.42,225.04 L54.19,224.89 L54.97,224.74 L55.75,224.58 L56.53,224.43 L57.30,224.27 L58.08,224.11 L58.86,223.96 L59.63,223.80 L60.41,223.65 L61.19,223.49 L61.97,223.33 L62.74,223.17 L63.52,223.02 L64.30,222.86 L65.07,222.70 L65.85,222.54 L66.63,222.38 L67.41,222.22 L68.18,222.06 L68.96,221.91 L69.74,221.75 L70.51,221.58 L71.29,221.42 L72.07,221.26 L72.85,221.10 L73.62,220.94 L74.40,220.78 L75.18,220.62 L75.95,220.45 L76.73,220.29 L77.51,220.13 L78.29,219.96 L79.06,219.80 L79.84,219.64 L80.62,219.47 L81.39,219.31 L82.17,219.14 L82.95,218.98 L83.73,218.81 L84.50,218.65 L85.28,218.48 L86.06,218.31 L86.83,218.15 L87.61,217.98 L88.39,217.81 L89.17,217.64 L89.94,217.48 L90.72,217.31 L91.50,217.14 L92.27,216.97 L93.05,216.80 L93.83,216.63 L94.61,216.46 L95.38,216.29 L96.16,216.12 L96.94,215.95 L97.71,215.78 L98.49,215.60 L99.27,215.43 L100.05,215.26 L100.82,215.09 L101.60,214.91 L102.38,214.74 L103.15,214.56 L103.93,214.39 L104.71,214.22 L105.49,214.04 L106.26,213.86 L107.04,213.69 L107.82,213.51 L108.59,213.34 L109.37,213.16 L110.15,212.98 L110.93,212.80 L111.70,212.63 L112.48,212.45 L113.26,212.27 L114.03,212.09 L114.81,211.91 L115.59,211.73 L116.37,211.55 L117.14,211.37 L117.92,211.19 L118.70,211.01 L119.47,210.82 L120.25,210.64 L121.03,210.46 L121.81,210.27 L122.58,210.09 L123.36,209.91 L124.14,209.72 L124.91,209.54 L125.69,209.35 L126.47,209.17 L127.25,208.98 L128.02,208.79 L128.80,208.61 L129.58,208.42 L130.35,208.23 L131.13,208.04 L131.91,207.85 L132.69,207.66 L133.46,207.48 L134.24,207.28 L135.02,207.09 L135.79,206.90 L136.57,206.71 L137.35,206.52 L138.13,206.33 L138.90,206.13 L139.68,205.94 L140.46,205.75 L141.23,205.55 L142.01,205.36 L142.79,205.16 L143.57,204.97 L144.34,204.77 L145.12,204.57 L145.90,204.38 L146.67,204.18 L147.45,203.98 L148.23,203.78 L149.01,203.58 L149.78,203.38 L150.56,203.18 L151.34,202.98 L152.11,202.78 L152.89,202.58 L153.67,202.37 L154.45,202.17 L155.22,201.97 L156.00,201.76 L156.78,201.56 L157.55,201.35 L158.33,201.15 L159.11,200.94 L159.89,200.73 L160.66,200.53 L161.44,200.32 L162.22,200.11 L162.99,199.90 L163.77,199.69 L164.55,199.48 L165.33,199.27 L166.10,199.06 L166.88,198.84 L167.66,198.63 L168.43,198.42 L169.21,198.20 L169.99,197.99 L170.77,197.77 L171.54,197.56 L172.32,197.34 L173.10,197.12 L173.87,196.90 L174.65,196.69 L175.43,196.47 L176.21,196.25 L176.98,196.03 L177.76,195.80 L178.54,195.58 L179.31,195.36 L180.09,195.13 L180.87,194.91 L181.65,194.69 L182.42,194.46 L183.20,194.23 L183.98,194.01 L184.75,193.78 L185.53,193.55 L186.31,193.32 L187.09,193.09 L187.86,192.86 L188.64,192.63 L189.42,192.39 L190.19,192.16 L190.97,191.93 L191.75,191.69 L192.53,191.45 L193.30,191.22 L194.08,190.98 L194.86,190.74 L195.63,190.50 L196.41,190.26 L197.19,190.02 L197.97,189.78 L198.74,189.54 L199.52,189.29 L200.30,189.05 L201.07,188.80 L201.85,188.56 L202.63,188.31 L203.41,188.06 L204.18,187.81 L204.96,187.56 L205.74,187.31 L206.51,187.06 L207.29,186.81 L208.07,186.55 L208.85,186.30 L209.62,186.04 L210.40,185.78 L211.18,185.53 L211.95,185.27 L212.73,185.01 L213.51,184.75 L214.29,184.48 L215.06,184.22 L215.84,183.95 L216.62,183.69 L217.39,183.42 L218.17,183.15 L218.95,182.89 L219.73,182.61 L220.50,182.34 L221.28,182.07 L222.06,181.80 L222.83,181.52 L223.61,181.25 L224.39,180.97 L225.17,180.69 L225.94,180.41 L226.72,180.13 L227.50,179.84 L228.27,179.56 L229.05,179.28 L229.83,178.99 L230.61,178.70 L231.38,178.41 L232.16,178.12 L232.94,177.83 L233.71,177.53 L234.49,177.24 L235.27,176.94 L236.05,176.64 L236.82,176.35 L237.60,176.04 L238.38,175.74 L239.15,175.44 L239.93,175.13 L240.71,174.82 L241.49,174.52 L242.26,174.20 L243.04,173.89 L243.82,173.58 L244.59,173.26 L245.37,172.95 L246.15,172.63 L246.93,172.31 L247.70,171.98 L248.48,171.66 L249.26,171.33 L250.03,171.00 L250.81,170.67 L251.59,170.34 L252.37,170.01 L253.14,169.67 L253.92,169.33 L254.70,168.99 L255.47,168.65 L256.25,168.31 L257.03,167.96 L257.81,167.61 L258.58,167.26 L259.36,166.91 L260.14,166.56 L260.91,166.20 L261.69,165.84 L262.47,165.48 L263.25,165.11 L264.02,164.75 L264.80,164.38 L265.58,164.01 L266.35,163.63 L267.13,163.26 L267.91,162.88 L268.69,162.50 L269.46,162.11 L270.24,161.72 L271.02,161.34 L271.79,160.94 L272.57,160.55 L273.35,160.15 L274.13,159.75 L274.90,159.34 L275.68,158.94 L276.46,158.53 L277.23,158.11 L278.01,157.70 L278.79,157.28 L279.57,156.86 L280.34,156.43 L281.12,156.00 L281.90,155.57 L282.67,155.13 L283.45,154.69 L284.23,154.25 L285.01,153.80 L285.78,153.35 L286.56,152.89 L287.34,152.43 L288.11,151.97 L288.89,151.50 L289.67,151.03 L290.45,150.56 L291.22,150.08 L292.00,149.59 L292.78,149.11 L293.55,148.61 L294.33,148.12 L295.11,147.61 L295.89,147.11 L296.66,146.60 L297.44,146.08 L298.22,145.56 L298.99,145.03 L299.77,144.50 L300.55,143.96 L301.33,143.42 L302.10,142.87 L302.88,142.31 L303.66,141.75 L304.43,141.18 L305.21,140.61 L305.99,140.03 L306.77,139.44 L307.54,138.85 L308.32,138.25 L309.10,137.64 L309.87,137.03 L310.65,136.41 L311.43,135.78 L312.21,135.14 L312.98,134.50 L313.76,133.85 L314.54,133.19 L315.31,132.52 L316.09,131.84 L316.87,131.15 L317.65,130.46 L318.42,129.75 L319.20,129.03 L319.98,128.31 L320.75,127.57 L321.53,126.83 L322.31,126.07 L323.09,125.30 L323.86,124.52 L324.64,123.72 L325.42,122.92 L326.19,122.10 L326.97,121.26 L327.75,120.42 L328.53,119.56 L329.30,118.68 L330.08,117.79 L330.86,116.88 L331.63,115.95 L332.41,115.01 L333.19,114.05 L333.97,113.07 L334.74,112.07 L335.52,111.05 L336.30,110.01 L337.07,108.95 L337.85,107.86 L338.63,106.75 L339.41,105.61 L340.18,104.45 L340.96,103.25 L341.74,102.03 L342.51,100.77 L343.29,99.48 L344.07,98.15 L344.85,96.79 L345.62,95.38 L346.40,93.93 L347.18,92.43 L347.95,90.89 L348.73,89.28 L349.51,87.62 L350.29,85.89 L351.06,84.10 L351.84,82.22 L352.62,80.26 L353.39,78.20 L354.17,76.04 L354.95,73.76 L355.73,71.33 L356.50,68.75 L357.28,65.98" stroke="#0000ff"/>
<path d="M51.44,200.35 L56.64,205.55 M51.44,205.55 L56.64,200.35 M60.56,198.56 L65.76,203.76 M60.56,203.76 L65.76,198.56 M69.68,196.71 L74.88,201.91 M69.68,201.91 L74.88,196.71 M78.80,194.80 L84.00,200.00 M78.80,200.00 L84.00,194.80 M87.92,192.82 L93.12,198.02 M87.92,198.02 L93.12,192.82 M97.04,190.76 L102.24,195.96 M97.04,195.96 L102.24,190.76 M106.16,188.64 L111.36,193.84 M106.16,193.84 L111.36,188.64 M115.28,186.43 L120.48,191.63 M115.28,191.63 L120.48,186.43 M124.40,184.14 L129.60,189.34 M124.40,189.34 L129.60,184.14 M133.52,181.76 L138.72,186.96 M133.52,186.96 L138.72,181.76 M142.64,179.29 L147.84,184.49 M142.64,184.49 L147.84,179.29 M151.76,176.72 L156.96,181.92 M151.76,181.92 L156.96,176.72 M160.88,174.05 L166.08,179.25 M160.88,179.25 L166.08,174.05 M170.00,171.26 L175.20,176.46 M170.00,176.46 L175.20,171.26 M179.12,168.36 L184.32,173.56 M179.12,173.56 L184.32,168.36 M188.24,165.33 L193.44,170.53 M188.24,170.53 L193.44,165.33 M197.36,162.15 L202.56,167.35 M197.36,167.35 L202.56,162.15 M206.48,158.83 L211.68,164.03 M206.48,164.03 L211.68,158.83 M215.60,155.34 L220.80,160.54 M215.60,160.54 L220.80,155.34 M224.72,151.67 L229.92,156.87 M224.72,156.87 L229.92,151.67 M233.84,147.80 L239.04,153.00 M233.84,153.00 L239.04,147.80 M242.96,143.71 L248.16,148.91 M242.96,148.91 L248.16,143.71 M252.08,139.36 L257.28,144.56 M252.08,144.56 L257.28,139.36 M261.20,134.73 L266.40,139.93 M261.20,139.93 L266.40,134.73 M270.32,129.76 L275.52,134.96 M270.32,134.96 L275.52,129.76 M279.44,124.41 L284.64,129.61 M279.44,129.61 L284.64,124.41 M288.56,118.60 L293.76,123.80 M288.56,123.80 L293.76,118.60 M297.68,112.23 L302.88,117.43 M297.68,117.43 L302.88,112.23 M306.80,105.16 L312.00,110.36 M306.80,110.36 L312.00,105.16 M315.92,97.17 L321.12,102.37 M315.92,102.37 L321.12,97.17 M325.04,87.94 L330.24,93.14 M325.04,93.14 L330.24,87.94 M334.16,76.86 L339.36,82.06 M334.16,82.06 L339.36,76.86 M343.28,62.65 L348.48,67.85 M343.28,67.85 L348.48,62.65 M352.40,41.25 L357.60,46.45 M352.40,46.45 L357.60,41.25 M51.44,222.32 L56.64,227.52 M51.44,227.52 L56.64,222.32 M60.56,220.49 L65.76,225.69 M60.56,225.69 L65.76,220.49 M69.68,218.62 L74.88,223.82 M69.68,223.82 L74.88,218.62 M78.80,216.71 L84.00,221.91 M78.80,221.91 L84.00,216.71 M87.92,214.75 L93.12,219.95 M87.92,219.95 L93.12,214.75 M97.04,212.75 L102.24,217.95 M97.04,217.95 L102.24,212.75 M106.16,210.70 L111.36,215.90 M106.16,215.90 L111.36,210.70 M115.28,208.60 L120.48,213.80 M115.28,213.80 L120.48,208.60 M124.40,206.44 L129.60,211.64 M124.40,211.64 L129.60,206.44 M133.52,204.22 L138.72,209.42 M133.52,209.42 L138.72,204.22 M142.64,201.94 L147.84,207.14 M142.64,207.14 L147.84,201.94 M151.76,199.59 L156.96,204.79 M151.76,204.79 L156.96,199.59 M160.88,197.17 L166.08,202.37 M160.88,202.37 L166.08,197.17 M170.00,194.66 L175.20,199.86 M170.00,199.86 L175.20,194.66 M179.12,192.06 L184.32,197.26 M179.12,197.26 L184.32,192.06 M188.24,189.37 L193.44,194.57 M188.24,194.57 L193.44,189.37 M197.36,186.56 L202.56,191.76 M197.36,191.76 L202.56,186.56 M206.48,183.62 L211.68,188.82 M206.48,188.82 L211.68,183.62 M215.60,180.54 L220.80,185.74 M215.60,185.74 L220.80,180.54 M224.72,177.31 L229.92,182.51 M224.72,182.51 L229.92,177.31 M233.84,173.89 L239.04,179.09 M233.84,179.09 L239.04,173.89 M242.96,170.27 L248.16,175.47 M242.96,175.47 L248.16,170.27 M252.08,166.40 L257.28,171.60 M252.08,171.60 L257.28,166.40 M261.20,162.25 L266.40,167.45 M261.20,167.45 L266.40,162.25 M270.32,157.77 L275.52,162.97 M270.32,162.97 L275.52,157.77 M279.44,152.89 L284.64,158.09 M279.44,158.09 L284.64,152.89 M288.56,147.52 L293.76,152.72 M288.56,152.72 L293.76,147.52 M297.68,141.55 L302.88,146.75 M297.68,146.75 L302.88,141.55 M306.80,134.81 L312.00,140.01 M306.80,140.01 L312.00,134.81 M315.92,127.06 L321.12,132.26 M315.92,132.26 L321.12,127.06 M325.04,117.94 L330.24,123.14 M325.04,123.14 L330.24,117.94 M334.16,106.78 L339.36,111.98 M334.16,111.98 L339.36,106.78 M343.28,92.31 L348.48,97.51 M343.28,97.51 L348.48,92.31 M352.40,71.00 L357.60,76.20 M352.40,76.20 L357.60,71.00" stroke="#000" stroke-width="1.3"/>
</g>
<g clip-path="url(#c2)" fill="none" stroke-width="1.90">
<path d="M47.2,241.75 L357.28,241.75" stroke="#0000ff"/>
<path d="M47.20,244.33 L47.98,244.33 L48.75,244.34 L49.53,244.34 L50.31,244.34 L51.09,244.35 L51.86,244.35 L52.64,244.36 L53.42,244.36 L54.19,244.37 L54.97,244.37 L55.75,244.38 L56.53,244.38 L57.30,244.39 L58.08,244.39 L58.86,244.40 L59.63,244.40 L60.41,244.41 L61.19,244.41 L61.97,244.42 L62.74,244.42 L63.52,244.43 L64.30,244.43 L65.07,244.44 L65.85,244.44 L66.63,244.45 L67.41,244.45 L68.18,244.46 L68.96,244.46 L69.74,244.47 L70.51,244.47 L71.29,244.48 L72.07,244.48 L72.85,244.49 L73.62,244.49 L74.40,244.50 L75.18,244.50 L75.95,244.51 L76.73,244.51 L77.51,244.52 L78.29,244.52 L79.06,244.53 L79.84,244.53 L80.62,244.54 L81.39,244.54 L82.17,244.55 L82.95,244.55 L83.73,244.56 L84.50,244.56 L85.28,244.57 L86.06,244.57 L86.83,244.58 L87.61,244.59 L88.39,244.59 L89.17,244.60 L89.94,244.60 L90.72,244.61 L91.50,244.61 L92.27,244.62 L93.05,244.62 L93.83,244.63 L94.61,244.64 L95.38,244.64 L96.16,244.65 L96.94,244.65 L97.71,244.66 L98.49,244.67 L99.27,244.67 L100.05,244.68 L100.82,244.68 L101.60,244.69 L102.38,244.69 L103.15,244.70 L103.93,244.71 L104.71,244.71 L105.49,244.72 L106.26,244.73 L107.04,244.73 L107.82,244.74 L108.59,244.74 L109.37,244.75 L110.15,244.76 L110.93,244.76 L111.70,244.77 L112.48,244.78 L113.26,244.78 L114.03,244.79 L114.81,244.80 L115.59,244.80 L116.37,244.81 L117.14,244.81 L117.92,244.82 L118.70,244.83 L119.47,244.84 L120.25,244.84 L121.03,244.85 L121.81,244.86 L122.58,244.86 L123.36,244.87 L124.14,244.88 L124.91,244.88 L125.69,244.89 L126.47,244.90 L127.25,244.90 L128.02,244.91 L128.80,244.92 L129.58,244.93 L130.35,244.93 L131.13,244.94 L131.91,244.95 L132.69,244.96 L133.46,244.96 L134.24,244.97 L135.02,244.98 L135.79,244.99 L136.57,244.99 L137.35,245.00 L138.13,245.01 L138.90,245.02 L139.68,245.03 L140.46,245.03 L141.23,245.04 L142.01,245.05 L142.79,245.06 L143.57,245.07 L144.34,245.07 L145.12,245.08 L145.90,245.09 L146.67,245.10 L147.45,245.11 L148.23,245.12 L149.01,245.12 L149.78,245.13 L150.56,245.14 L151.34,245.15 L152.11,245.16 L152.89,245.17 L153.67,245.18 L154.45,245.19 L155.22,245.20 L156.00,245.21 L156.78,245.21 L157.55,245.22 L158.33,245.23 L159.11,245.24 L159.89,245.25 L160.66,245.26 L161.44,245.27 L162.22,245.28 L162.99,245.29 L163.77,245.30 L164.55,245.31 L165.33,245.32 L166.10,245.33 L166.88,245.34 L167.66,245.35 L168.43,245.36 L169.21,245.37 L169.99,245.38 L170.77,245.39 L171.54,245.40 L172.32,245.42 L173.10,245.43 L173.87,245.44 L174.65,245.45 L175.43,245.46 L176.21,245.47 L176.98,245.48 L177.76,245.49 L178.54,245.51 L179.31,245.52 L180.09,245.53 L180.87,245.54 L181.65,245.55 L182.42,245.56 L183.20,245.58 L183.98,245.59 L184.75,245.60 L185.53,245.61 L186.31,245.63 L187.09,245.64 L187.86,245.65 L188.64,245.67 L189.42,245.68 L190.19,245.69 L190.97,245.70 L191.75,245.72 L192.53,245.73 L193.30,245.75 L194.08,245.76 L194.86,245.77 L195.63,245.79 L196.41,245.80 L197.19,245.82 L197.97,245.83 L198.74,245.85 L199.52,245.86 L200.30,245.87 L201.07,245.89 L201.85,245.91 L202.63,245.92 L203.41,245.94 L204.18,245.95 L204.96,245.97 L205.74,245.98 L206.51,246.00 L207.29,246.02 L208.07,246.03 L208.85,246.05 L209.62,246.07 L210.40,246.08 L211.18,246.10 L211.95,246.12 L212.73,246.13 L213.51,246.15 L214.29,246.17 L215.06,246.19 L215.84,246.21 L216.62,246.22 L217.39,246.24 L218.17,246.26 L218.95,246.28 L219.73,246.30 L220.50,246.32 L221.28,246.34 L222.06,246.36 L222.83,246.38 L223.61,246.40 L224.39,246.42 L225.17,246.44 L225.94,246.46 L226.72,246.48 L227.50,246.51 L228.27,246.53 L229.05,246.55 L229.83,246.57 L230.61,246.59 L231.38,246.62 L232.16,246.64 L232.94,246.66 L233.71,246.69 L234.49,246.71 L235.27,246.73 L236.05,246.76 L236.82,246.78 L237.60,246.81 L238.38,246.83 L239.15,246.86 L239.93,246.88 L240.71,246.91 L241.49,246.94 L242.26,246.96 L243.04,246.99 L243.82,247.02 L244.59,247.05 L245.37,247.08 L246.15,247.10 L246.93,247.13 L247.70,247.16 L248.48,247.19 L249.26,247.22 L250.03,247.25 L250.81,247.28 L251.59,247.31 L252.37,247.35 L253.14,247.38 L253.92,247.41 L254.70,247.44 L255.47,247.48 L256.25,247.51 L257.03,247.55 L257.81,247.58 L258.58,247.62 L259.36,247.65 L260.14,247.69 L260.91,247.72 L261.69,247.76 L262.47,247.80 L263.25,247.84 L264.02,247.88 L264.80,247.92 L265.58,247.96 L266.35,248.00 L267.13,248.04 L267.91,248.08 L268.69,248.12 L269.46,248.17 L270.24,248.21 L271.02,248.26 L271.79,248.30 L272.57,248.35 L273.35,248.39 L274.13,248.44 L274.90,248.49 L275.68,248.54 L276.46,248.59 L277.23,248.64 L278.01,248.69 L278.79,248.74 L279.57,248.79 L280.34,248.85 L281.12,248.90 L281.90,248.96 L282.67,249.02 L283.45,249.07 L284.23,249.13 L285.01,249.19 L285.78,249.25 L286.56,249.31 L287.34,249.38 L288.11,249.44 L288.89,249.51 L289.67,249.57 L290.45,249.64 L291.22,249.71 L292.00,249.78 L292.78,249.85 L293.55,249.92 L294.33,250.00 L295.11,250.07 L295.89,250.15 L296.66,250.23 L297.44,250.31 L298.22,250.39 L298.99,250.47 L299.77,250.56 L300.55,250.65 L301.33,250.74 L302.10,250.83 L302.88,250.92 L303.66,251.01 L304.43,251.11 L305.21,251.21 L305.99,251.31 L306.77,251.41 L307.54,251.52 L308.32,251.63 L309.10,251.74 L309.87,251.85 L310.65,251.97 L311.43,252.09 L312.21,252.21 L312.98,252.33 L313.76,252.46 L314.54,252.59 L315.31,252.73 L316.09,252.87 L316.87,253.01 L317.65,253.16 L318.42,253.31 L319.20,253.46 L319.98,253.62 L320.75,253.78 L321.53,253.95 L322.31,254.12 L323.09,254.30 L323.86,254.48 L324.64,254.67 L325.42,254.87 L326.19,255.07 L326.97,255.27 L327.75,255.49 L328.53,255.71 L329.30,255.94 L330.08,256.18 L330.86,256.43 L331.63,256.68 L332.41,256.95 L333.19,257.22 L333.97,257.51 L334.74,257.80 L335.52,258.11 L336.30,258.44 L337.07,258.77 L337.85,259.12 L338.63,259.49 L339.41,259.88 L340.18,260.28 L340.96,260.70 L341.74,261.14 L342.51,261.61 L343.29,262.10 L344.07,262.62 L344.85,263.17 L345.62,263.76 L346.40,264.38 L347.18,265.04 L347.95,265.74 L348.73,266.49 L349.51,267.30 L350.29,268.17 L351.06,269.11 L351.84,270.14 L352.62,271.25 L353.39,272.47 L354.17,273.82 L354.95,275.31 L355.73,276.99 L356.50,278.87 L357.28,281.02" stroke="#0000ff" stroke-dasharray="8.3,4.45" stroke-dashoffset="12.15"/>
<path d="M47.20,246.87 L47.98,246.88 L48.75,246.89 L49.53,246.90 L50.31,246.91 L51.09,246.91 L51.86,246.92 L52.64,246.93 L53.42,246.94 L54.19,246.95 L54.97,246.96 L55.75,246.97 L56.53,246.98 L57.30,246.99 L58.08,247.00 L58.86,247.01 L59.63,247.02 L60.41,247.03 L61.19,247.04 L61.97,247.05 L62.74,247.06 L63.52,247.07 L64.30,247.08 L65.07,247.08 L65.85,247.09 L66.63,247.10 L67.41,247.11 L68.18,247.12 L68.96,247.13 L69.74,247.14 L70.51,247.15 L71.29,247.16 L72.07,247.17 L72.85,247.18 L73.62,247.19 L74.40,247.20 L75.18,247.21 L75.95,247.22 L76.73,247.23 L77.51,247.24 L78.29,247.26 L79.06,247.27 L79.84,247.28 L80.62,247.29 L81.39,247.30 L82.17,247.31 L82.95,247.32 L83.73,247.33 L84.50,247.34 L85.28,247.35 L86.06,247.36 L86.83,247.37 L87.61,247.38 L88.39,247.39 L89.17,247.40 L89.94,247.41 L90.72,247.43 L91.50,247.44 L92.27,247.45 L93.05,247.46 L93.83,247.47 L94.61,247.48 L95.38,247.49 L96.16,247.50 L96.94,247.52 L97.71,247.53 L98.49,247.54 L99.27,247.55 L100.05,247.56 L100.82,247.57 L101.60,247.58 L102.38,247.60 L103.15,247.61 L103.93,247.62 L104.71,247.63 L105.49,247.64 L106.26,247.66 L107.04,247.67 L107.82,247.68 L108.59,247.69 L109.37,247.71 L110.15,247.72 L110.93,247.73 L111.70,247.74 L112.48,247.76 L113.26,247.77 L114.03,247.78 L114.81,247.79 L115.59,247.81 L116.37,247.82 L117.14,247.83 L117.92,247.85 L118.70,247.86 L119.47,247.87 L120.25,247.88 L121.03,247.90 L121.81,247.91 L122.58,247.93 L123.36,247.94 L124.14,247.95 L124.91,247.97 L125.69,247.98 L126.47,247.99 L127.25,248.01 L128.02,248.02 L128.80,248.04 L129.58,248.05 L130.35,248.06 L131.13,248.08 L131.91,248.09 L132.69,248.11 L133.46,248.12 L134.24,248.14 L135.02,248.15 L135.79,248.17 L136.57,248.18 L137.35,248.20 L138.13,248.21 L138.90,248.23 L139.68,248.24 L140.46,248.26 L141.23,248.28 L142.01,248.29 L142.79,248.31 L143.57,248.32 L144.34,248.34 L145.12,248.36 L145.90,248.37 L146.67,248.39 L147.45,248.40 L148.23,248.42 L149.01,248.44 L149.78,248.45 L150.56,248.47 L151.34,248.49 L152.11,248.51 L152.89,248.52 L153.67,248.54 L154.45,248.56 L155.22,248.58 L156.00,248.59 L156.78,248.61 L157.55,248.63 L158.33,248.65 L159.11,248.67 L159.89,248.69 L160.66,248.70 L161.44,248.72 L162.22,248.74 L162.99,248.76 L163.77,248.78 L164.55,248.80 L165.33,248.82 L166.10,248.84 L166.88,248.86 L167.66,248.88 L168.43,248.90 L169.21,248.92 L169.99,248.94 L170.77,248.96 L171.54,248.98 L172.32,249.00 L173.10,249.02 L173.87,249.05 L174.65,249.07 L175.43,249.09 L176.21,249.11 L176.98,249.13 L177.76,249.16 L178.54,249.18 L179.31,249.20 L180.09,249.22 L180.87,249.25 L181.65,249.27 L182.42,249.29 L183.20,249.32 L183.98,249.34 L184.75,249.36 L185.53,249.39 L186.31,249.41 L187.09,249.44 L187.86,249.46 L188.64,249.49 L189.42,249.51 L190.19,249.54 L190.97,249.56 L191.75,249.59 L192.53,249.62 L193.30,249.64 L194.08,249.67 L194.86,249.70 L195.63,249.72 L196.41,249.75 L197.19,249.78 L197.97,249.81 L198.74,249.84 L199.52,249.86 L200.30,249.89 L201.07,249.92 L201.85,249.95 L202.63,249.98 L203.41,250.01 L204.18,250.04 L204.96,250.07 L205.74,250.10 L206.51,250.13 L207.29,250.17 L208.07,250.20 L208.85,250.23 L209.62,250.26 L210.40,250.29 L211.18,250.33 L211.95,250.36 L212.73,250.40 L213.51,250.43 L214.29,250.46 L215.06,250.50 L215.84,250.53 L216.62,250.57 L217.39,250.61 L218.17,250.64 L218.95,250.68 L219.73,250.72 L220.50,250.75 L221.28,250.79 L222.06,250.83 L222.83,250.87 L223.61,250.91 L224.39,250.95 L225.17,250.99 L225.94,251.03 L226.72,251.07 L227.50,251.11 L228.27,251.15 L229.05,251.19 L229.83,251.23 L230.61,251.28 L231.38,251.32 L232.16,251.37 L232.94,251.41 L233.71,251.46 L234.49,251.50 L235.27,251.55 L236.05,251.59 L236.82,251.64 L237.60,251.69 L238.38,251.74 L239.15,251.79 L239.93,251.84 L240.71,251.89 L241.49,251.94 L242.26,251.99 L243.04,252.04 L243.82,252.09 L244.59,252.15 L245.37,252.20 L246.15,252.26 L246.93,252.31 L247.70,252.37 L248.48,252.42 L249.26,252.48 L250.03,252.54 L250.81,252.60 L251.59,252.66 L252.37,252.72 L253.14,252.78 L253.92,252.84 L254.70,252.91 L255.47,252.97 L256.25,253.03 L257.03,253.10 L257.81,253.17 L258.58,253.23 L259.36,253.30 L260.14,253.37 L260.91,253.44 L261.69,253.51 L262.47,253.58 L263.25,253.66 L264.02,253.73 L264.80,253.81 L265.58,253.88 L266.35,253.96 L267.13,254.04 L267.91,254.12 L268.69,254.20 L269.46,254.28 L270.24,254.36 L271.02,254.45 L271.79,254.53 L272.57,254.62 L273.35,254.71 L274.13,254.80 L274.90,254.89 L275.68,254.98 L276.46,255.08 L277.23,255.17 L278.01,255.27 L278.79,255.37 L279.57,255.47 L280.34,255.57 L281.12,255.67 L281.90,255.78 L282.67,255.89 L283.45,255.99 L284.23,256.11 L285.01,256.22 L285.78,256.33 L286.56,256.45 L287.34,256.57 L288.11,256.69 L288.89,256.81 L289.67,256.93 L290.45,257.06 L291.22,257.19 L292.00,257.32 L292.78,257.46 L293.55,257.59 L294.33,257.73 L295.11,257.87 L295.89,258.02 L296.66,258.16 L297.44,258.31 L298.22,258.47 L298.99,258.62 L299.77,258.78 L300.55,258.94 L301.33,259.11 L302.10,259.28 L302.88,259.45 L303.66,259.63 L304.43,259.81 L305.21,259.99 L305.99,260.18 L306.77,260.37 L307.54,260.57 L308.32,260.77 L309.10,260.97 L309.87,261.18 L310.65,261.40 L311.43,261.62 L312.21,261.84 L312.98,262.07 L313.76,262.31 L314.54,262.55 L315.31,262.79 L316.09,263.05 L316.87,263.31 L317.65,263.57 L318.42,263.85 L319.20,264.13 L319.98,264.42 L320.75,264.71 L321.53,265.02 L322.31,265.33 L323.09,265.66 L323.86,265.99 L324.64,266.33 L325.42,266.68 L326.19,267.04 L326.97,267.42 L327.75,267.80 L328.53,268.20 L329.30,268.61 L330.08,269.04 L330.86,269.48 L331.63,269.93 L332.41,270.40 L333.19,270.89 L333.97,271.39 L334.74,271.92 L335.52,272.46 L336.30,273.03 L337.07,273.62 L337.85,274.23 L338.63,274.87 L339.41,275.53 L340.18,276.23 L340.96,276.96 L341.74,277.72 L342.51,278.52 L343.29,279.36 L344.07,280.24 L344.85,281.17 L345.62,282.15 L346.40,283.18 L347.18,284.28 L347.95,285.44 L348.73,286.68 L349.51,288.00 L350.29,289.41 L351.06,290.92 L351.84,292.55 L352.62,294.31 L353.39,296.22 L354.17,298.30 L354.95,300.59 L355.73,303.11 L356.50,305.91 L357.28,309.06" stroke="#0000ff" stroke-dasharray="0.01,6.22" stroke-dashoffset="5.22" stroke-linecap="round" stroke-width="2.1"/>
</g>
<rect x="58" y="47.2" width="174.5" height="106" fill="#fff" stroke="#000" stroke-width="1.3"/>
<path d="M62,57.0 L87.5,57.0" stroke="#ff0000" stroke-width="1.9"/>
<text x="94.6" y="59.4" font-size="12" letter-spacing="-0.045">n<tspan font-size="8.7" dy="4.6">ext</tspan><tspan dy="-4.6"> with E</tspan><tspan font-size="8.7" dy="4.6">0</tspan><tspan dy="-4.6"> = 3.41977 eV</tspan></text>
<path d="M62,74.1 L83.2,74.1" stroke="#ff0000" stroke-width="1.9" stroke-dasharray="8.3,4.45"/>
<text x="94.6" y="76.5" font-size="12" letter-spacing="-0.045">n<tspan font-size="8.7" dy="4.6">ext</tspan><tspan dy="-4.6"> with E</tspan><tspan font-size="8.7" dy="4.6">0</tspan><tspan dy="-4.6"> + 25 meV</tspan></text>
<path d="M63.1,91.2 L83.5,91.2" stroke="#ff0000" stroke-width="2.1" stroke-dasharray="0.01,6.4" stroke-linecap="round"/>
<text x="94.6" y="93.6" font-size="12" letter-spacing="-0.045">n<tspan font-size="8.7" dy="4.6">ext</tspan><tspan dy="-4.6"> with E</tspan><tspan font-size="8.7" dy="4.6">0</tspan><tspan dy="-4.6"> + 50 meV</tspan></text>
<path d="M62,108.30000000000001 L87.5,108.30000000000001" stroke="#0000ff" stroke-width="1.9"/>
<text x="94.6" y="110.7" font-size="12" letter-spacing="-0.045">n<tspan font-size="8.7" dy="4.6">ord</tspan><tspan dy="-4.6"> with E</tspan><tspan font-size="8.7" dy="4.6">0</tspan><tspan dy="-4.6"> = 3.40581 eV</tspan></text>
<path d="M62,125.4 L83.2,125.4" stroke="#0000ff" stroke-width="1.9" stroke-dasharray="8.3,4.45"/>
<text x="94.6" y="127.8" font-size="12" letter-spacing="-0.045">n<tspan font-size="8.7" dy="4.6">ord</tspan><tspan dy="-4.6"> with E</tspan><tspan font-size="8.7" dy="4.6">0</tspan><tspan dy="-4.6"> + 25 meV</tspan></text>
<path d="M63.1,142.5 L83.5,142.5" stroke="#0000ff" stroke-width="2.1" stroke-dasharray="0.01,6.4" stroke-linecap="round"/>
<text x="94.6" y="144.9" font-size="12" letter-spacing="-0.045">n<tspan font-size="8.7" dy="4.6">ord</tspan><tspan dy="-4.6"> with E</tspan><tspan font-size="8.7" dy="4.6">0</tspan><tspan dy="-4.6"> + 50 meV</tspan></text>
<rect x="58" y="260.3" width="161.5" height="38.2" fill="#fff" stroke="#000" stroke-width="1.3"/>
<path d="M62,271.1 L83.2,271.1" stroke="#0000ff" stroke-width="1.9" stroke-dasharray="8.3,4.45"/>
<text x="94.2" y="273.4" font-size="12" letter-spacing="-0.05">&#916;n<tspan font-size="8.7" dy="4.6">ord</tspan><tspan dy="-4.6"> with E</tspan><tspan font-size="8.7" dy="4.6">0</tspan><tspan dy="-4.6"> + 25 meV</tspan></text>
<path d="M63.1,287.20000000000005 L83.5,287.20000000000005" stroke="#0000ff" stroke-width="2.1" stroke-dasharray="0.01,6.4" stroke-linecap="round"/>
<text x="94.2" y="289.5" font-size="12" letter-spacing="-0.05">&#916;n<tspan font-size="8.7" dy="4.6">ord</tspan><tspan dy="-4.6"> with E</tspan><tspan font-size="8.7" dy="4.6">0</tspan><tspan dy="-4.6"> + 50 meV</tspan></text>
<path d="M47.2,36.1 L357.28,36.1 L357.28,320.7 L47.2,320.7 Z M47.2,231.8 L357.28,231.8" fill="none" stroke="#000" stroke-width="2.05"/>
<path d="M47.20,320.7 L47.20,313.7 M47.20,224.8 L47.20,238.8 M58.60,320.7 L58.60,317.09999999999997 M58.60,228.20000000000002 L58.60,235.4 M70.00,320.7 L70.00,317.09999999999997 M70.00,228.20000000000002 L70.00,235.4 M81.40,320.7 L81.40,317.09999999999997 M81.40,228.20000000000002 L81.40,235.4 M92.80,320.7 L92.80,313.7 M92.80,224.8 L92.80,238.8 M104.20,320.7 L104.20,317.09999999999997 M104.20,228.20000000000002 L104.20,235.4 M115.60,320.7 L115.60,317.09999999999997 M115.60,228.20000000000002 L115.60,235.4 M127.00,320.7 L127.00,317.09999999999997 M127.00,228.20000000000002 L127.00,235.4 M138.40,320.7 L138.40,313.7 M138.40,224.8 L138.40,238.8 M149.80,320.7 L149.80,317.09999999999997 M149.80,228.20000000000002 L149.80,235.4 M161.20,320.7 L161.20,317.09999999999997 M161.20,228.20000000000002 L161.20,235.4 M172.60,320.7 L172.60,317.09999999999997 M172.60,228.20000000000002 L172.60,235.4 M184.00,320.7 L184.00,313.7 M184.00,224.8 L184.00,238.8 M195.40,320.7 L195.40,317.09999999999997 M195.40,228.20000000000002 L195.40,235.4 M206.80,320.7 L206.80,317.09999999999997 M206.80,228.20000000000002 L206.80,235.4 M218.20,320.7 L218.20,317.09999999999997 M218.20,228.20000000000002 L218.20,235.4 M229.60,320.7 L229.60,313.7 M229.60,224.8 L229.60,238.8 M241.00,320.7 L241.00,317.09999999999997 M241.00,228.20000000000002 L241.00,235.4 M252.40,320.7 L252.40,317.09999999999997 M252.40,228.20000000000002 L252.40,235.4 M263.80,320.7 L263.80,317.09999999999997 M263.80,228.20000000000002 L263.80,235.4 M275.20,320.7 L275.20,313.7 M275.20,224.8 L275.20,238.8 M286.60,320.7 L286.60,317.09999999999997 M286.60,228.20000000000002 L286.60,235.4 M298.00,320.7 L298.00,317.09999999999997 M298.00,228.20000000000002 L298.00,235.4 M309.40,320.7 L309.40,317.09999999999997 M309.40,228.20000000000002 L309.40,235.4 M320.80,320.7 L320.80,313.7 M320.80,224.8 L320.80,238.8 M332.20,320.7 L332.20,317.09999999999997 M332.20,228.20000000000002 L332.20,235.4 M343.60,320.7 L343.60,317.09999999999997 M343.60,228.20000000000002 L343.60,235.4 M355.00,320.7 L355.00,317.09999999999997 M355.00,228.20000000000002 L355.00,235.4 M355.21,36.1 L355.21,39.7 M335.10,36.1 L335.10,39.7 M316.03,36.1 L316.03,39.7 M297.91,36.1 L297.91,43.1 M280.67,36.1 L280.67,39.7 M264.26,36.1 L264.26,39.7 M248.60,36.1 L248.60,39.7 M233.66,36.1 L233.66,39.7 M219.39,36.1 L219.39,43.1 M205.73,36.1 L205.73,39.7 M192.65,36.1 L192.65,39.7 M180.12,36.1 L180.12,39.7 M168.11,36.1 L168.11,39.7 M156.57,36.1 L156.57,43.1 M145.48,36.1 L145.48,39.7 M134.82,36.1 L134.82,39.7 M124.57,36.1 L124.57,39.7 M114.69,36.1 L114.69,39.7 M105.17,36.1 L105.17,43.1 M95.99,36.1 L95.99,39.7 M87.14,36.1 L87.14,39.7 M78.59,36.1 L78.59,39.7 M70.32,36.1 L70.32,39.7 M62.34,36.1 L62.34,43.1 M54.62,36.1 L54.62,39.7 M47.2,36.10 L54.2,36.10 M357.28,36.10 L350.28,36.10 M47.2,44.61 L50.800000000000004,44.61 M357.28,44.61 L353.67999999999995,44.61 M47.2,53.12 L50.800000000000004,53.12 M357.28,53.12 L353.67999999999995,53.12 M47.2,61.63 L50.800000000000004,61.63 M357.28,61.63 L353.67999999999995,61.63 M47.2,70.14 L50.800000000000004,70.14 M357.28,70.14 L353.67999999999995,70.14 M47.2,78.65 L54.2,78.65 M357.28,78.65 L350.28,78.65 M47.2,87.16 L50.800000000000004,87.16 M357.28,87.16 L353.67999999999995,87.16 M47.2,95.67 L50.800000000000004,95.67 M357.28,95.67 L353.67999999999995,95.67 M47.2,104.18 L50.800000000000004,104.18 M357.28,104.18 L353.67999999999995,104.18 M47.2,112.69 L50.800000000000004,112.69 M357.28,112.69 L353.67999999999995,112.69 M47.2,121.20 L54.2,121.20 M357.28,121.20 L350.28,121.20 M47.2,129.71 L50.800000000000004,129.71 M357.28,129.71 L353.67999999999995,129.71 M47.2,138.22 L50.800000000000004,138.22 M357.28,138.22 L353.67999999999995,138.22 M47.2,146.73 L50.800000000000004,146.73 M357.28,146.73 L353.67999999999995,146.73 M47.2,155.24 L50.800000000000004,155.24 M357.28,155.24 L353.67999999999995,155.24 M47.2,163.75 L54.2,163.75 M357.28,163.75 L350.28,163.75 M47.2,172.26 L50.800000000000004,172.26 M357.28,172.26 L353.67999999999995,172.26 M47.2,180.77 L50.800000000000004,180.77 M357.28,180.77 L353.67999999999995,180.77 M47.2,189.28 L50.800000000000004,189.28 M357.28,189.28 L353.67999999999995,189.28 M47.2,197.79 L50.800000000000004,197.79 M357.28,197.79 L353.67999999999995,197.79 M47.2,206.30 L54.2,206.30 M357.28,206.30 L350.28,206.30 M47.2,214.81 L50.800000000000004,214.81 M357.28,214.81 L353.67999999999995,214.81 M47.2,223.32 L50.800000000000004,223.32 M357.28,223.32 L353.67999999999995,223.32 M47.2,231.85 L50.800000000000004,231.85 M357.28,231.85 L353.67999999999995,231.85 M47.2,241.75 L54.2,241.75 M357.28,241.75 L350.28,241.75 M47.2,251.65 L50.800000000000004,251.65 M357.28,251.65 L353.67999999999995,251.65 M47.2,261.55 L50.800000000000004,261.55 M357.28,261.55 L353.67999999999995,261.55 M47.2,271.45 L50.800000000000004,271.45 M357.28,271.45 L353.67999999999995,271.45 M47.2,281.35 L54.2,281.35 M357.28,281.35 L350.28,281.35 M47.2,291.25 L50.800000000000004,291.25 M357.28,291.25 L353.67999999999995,291.25 M47.2,301.15 L50.800000000000004,301.15 M357.28,301.15 L353.67999999999995,301.15 M47.2,311.05 L50.800000000000004,311.05 M357.28,311.05 L353.67999999999995,311.05 M47.2,320.95 L54.2,320.95 M357.28,320.95 L350.28,320.95" fill="none" stroke="#000" stroke-width="1.5"/>
<text x="44" y="40.9" font-size="15" text-anchor="end">2.8</text>
<text x="44" y="83.4" font-size="15" text-anchor="end">2.7</text>
<text x="44" y="126.0" font-size="15" text-anchor="end">2.6</text>
<text x="44" y="168.5" font-size="15" text-anchor="end">2.5</text>
<text x="44" y="211.1" font-size="15" text-anchor="end">2.4</text>
<text x="44" y="245.8" font-size="10" text-anchor="end">0</text>
<text x="44" y="285.5" font-size="10" text-anchor="end">-0.04</text>
<text x="44" y="325.1" font-size="10" text-anchor="end">-0.08</text>
<text x="47.2" y="337" font-size="15" text-anchor="middle">2</text>
<text x="92.8" y="337" font-size="15" text-anchor="middle">2.2</text>
<text x="138.4" y="337" font-size="15" text-anchor="middle">2.4</text>
<text x="184.0" y="337" font-size="15" text-anchor="middle">2.6</text>
<text x="229.6" y="337" font-size="15" text-anchor="middle">2.8</text>
<text x="275.2" y="337" font-size="15" text-anchor="middle">3</text>
<text x="320.8" y="337" font-size="15" text-anchor="middle">3.2</text>
<text x="62.3" y="31" font-size="15" text-anchor="middle">600</text>
<text x="105.2" y="31" font-size="15" text-anchor="middle">550</text>
<text x="156.6" y="31" font-size="15" text-anchor="middle">500</text>
<text x="219.4" y="31" font-size="15" text-anchor="middle">450</text>
<text x="297.9" y="31" font-size="15" text-anchor="middle">400</text>
<text x="203" y="354" font-size="15" text-anchor="middle">Energy (eV)</text>
<text x="203.6" y="10.7" font-size="15" text-anchor="middle">Wavelength (nm)</text>
<text transform="translate(11.1,204.3) rotate(-90)" font-size="15">Refractive index n<tspan font-size="10.5" dy="5">GaN</tspan></text>
<text transform="translate(11.4,337.5) rotate(-90)" font-size="15">Deviation &#916;n<tspan font-size="10.5" dy="5">GaN</tspan></text>
</svg></body></html>
